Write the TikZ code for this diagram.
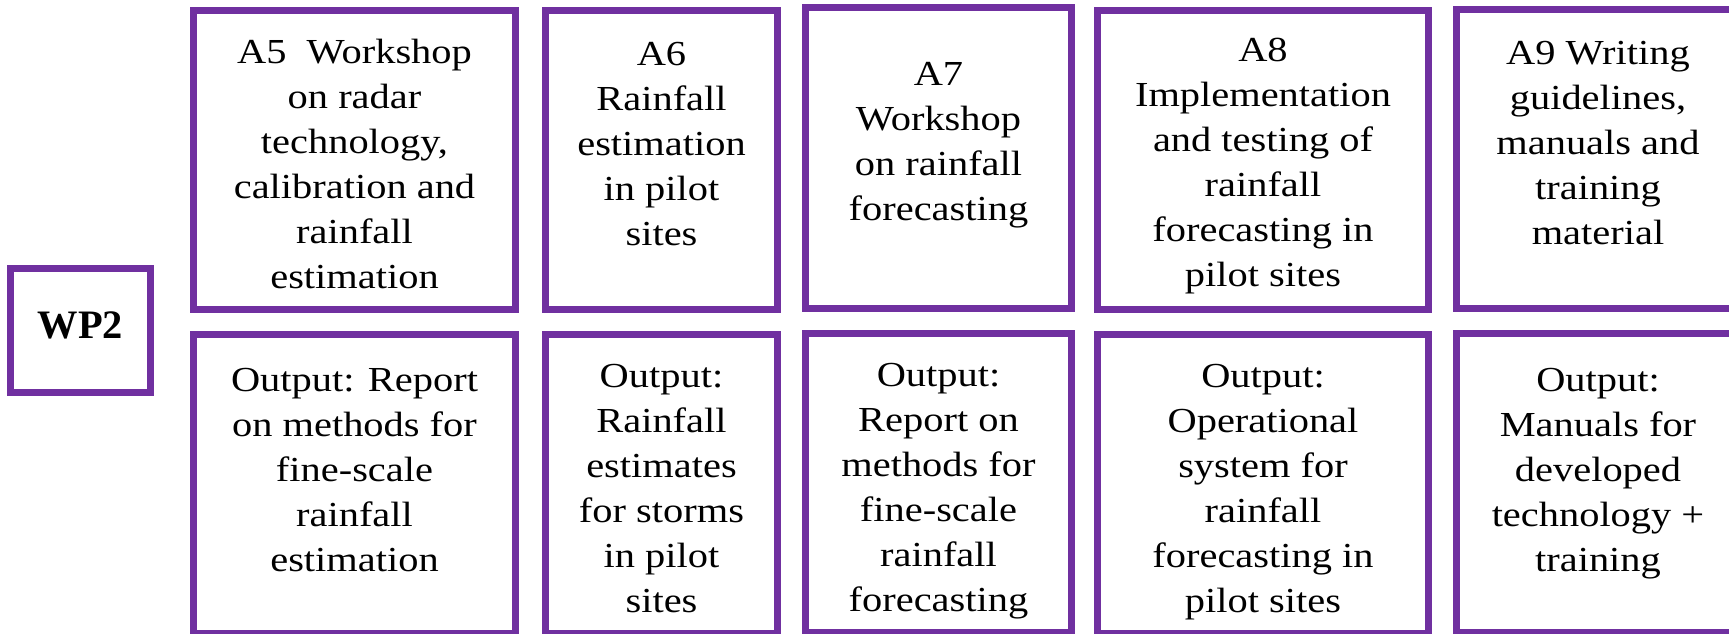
\documentclass[tikz,border=0pt]{standalone}
\usepackage{fontspec}
\setmainfont{Liberation Serif}[FakeStretch=1.15]
\newfontfamily\wpfont{Liberation Serif}
\usetikzlibrary{positioning}
\definecolor{wppurple}{HTML}{7030A0}
\newcommand{\boxfont}{\fontsize{10}{12.8}\selectfont}

\begin{document}
\begin{tikzpicture}[x=0.1mm, y=-0.1mm]
        \tikzstyle{wpbox} = [rectangle, draw=wppurple, line width=0.7mm, inner sep=0pt]
        \tikzstyle{topbox} = [wpbox, minimum height=29.9mm]
        \tikzstyle{outbox} = [wpbox, minimum height=29.9mm]
        \tikzstyle{boxtext} = [align=center, inner sep=0pt, font=\boxfont, execute at begin node=\strut]

        \useasboundingbox (0,0) rectangle (1729,633);

        % Work package
        \node (wp2) [wpbox, minimum width=14mm, minimum height=12.4mm] at (80.5,330.5) {};
        \node (wp2_text) [boxtext, font=\wpfont\bfseries\fontsize{11.5}{14}\selectfont, below=3.8mm of wp2.north] {WP2};

        % Activities
        \node (a5) [topbox, minimum width=32.2mm] at (354.5,160) {};
        \node (a6) [topbox, minimum width=23.2mm] at (661.5,160) {};
        \node (a7) [topbox, minimum width=26.6mm, minimum height=30.1mm] at (938.5,158) {};
        \node (a8) [topbox, minimum width=33.1mm] at (1263,160) {};
        \node (a9) [topbox, minimum width=28.3mm] at (1598,158.5) {};

        \node (a5_text) [boxtext, below=3.15mm of a5.north] {A5\ \ Workshop\\on radar\\technology,\\calibration and\\rainfall\\estimation};
        \node (a6_text) [boxtext, below=3.45mm of a6.north] {A6\\Rainfall\\estimation\\in pilot\\sites};
        \node (a7_text) [boxtext, below=5.75mm of a7.north] {A7\\Workshop\\on rainfall\\forecasting};
        \node (a8_text) [boxtext, below=3.05mm of a8.north] {A8\\Implementation\\and testing of\\rainfall\\forecasting in\\pilot sites};
        \node (a9_text) [boxtext, below=3.55mm of a9.north] {A9 Writing\\guidelines,\\manuals and\\training\\material};

        % Outputs
        \node (out5) [outbox, minimum width=32.2mm, below=1.8mm of a5] {};
        \node (out6) [outbox, minimum width=23.2mm, below=1.8mm of a6] {};
        \node (out7) [outbox, minimum width=26.6mm, below=1.8mm of a7] {};
        \node (out8) [outbox, minimum width=33.1mm, below=1.8mm of a8] {};
        \node (out9) [outbox, minimum width=28.3mm, below=1.8mm of a9] {};

        \node (out5_text) [boxtext, below=3.65mm of out5.north] {Output: Report\\on methods for\\fine-scale\\rainfall\\estimation};
        \node (out6_text) [boxtext, below=3.3mm of out6.north] {Output:\\Rainfall\\estimates\\for storms\\in pilot\\sites};
        \node (out7_text) [boxtext, below=3.3mm of out7.north] {Output:\\Report on\\methods for\\fine-scale\\rainfall\\forecasting};
        \node (out8_text) [boxtext, below=3.3mm of out8.north] {Output:\\Operational\\system for\\rainfall\\forecasting in\\pilot sites};
        \node (out9_text) [boxtext, below=3.8mm of out9.north] {Output:\\Manuals for\\developed\\technology +\\training};
\end{tikzpicture}
\end{document}
